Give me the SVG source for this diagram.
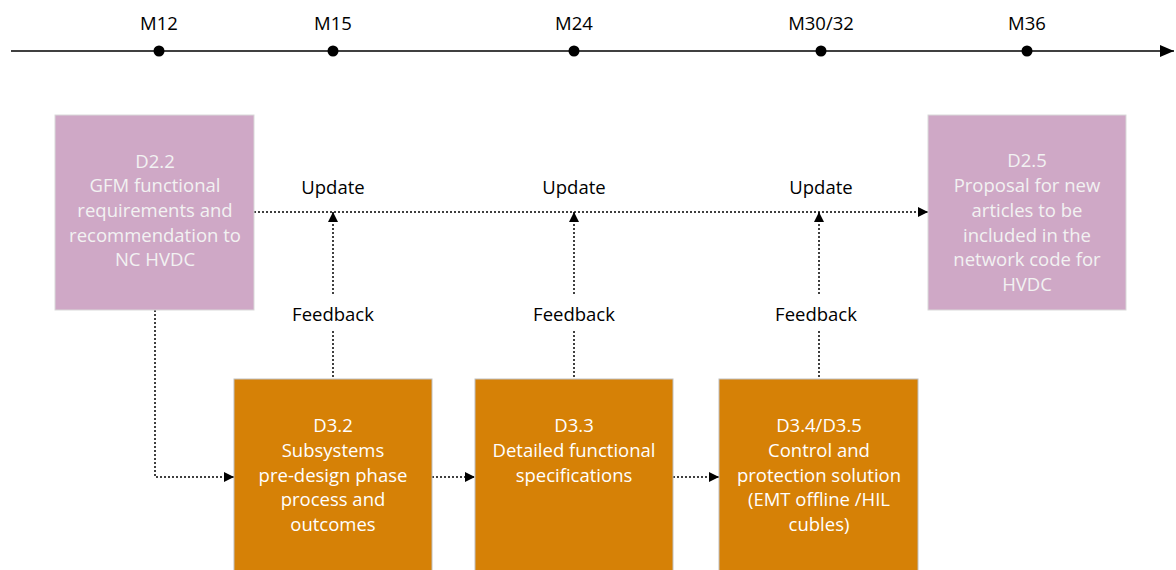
<svg xmlns="http://www.w3.org/2000/svg" width="1176" height="570" viewBox="0 0 1176 570">
<defs>
<marker id="ah" viewBox="0 0 10 10" refX="10" refY="5" markerWidth="10" markerHeight="10" markerUnits="userSpaceOnUse" orient="auto">
<path d="M0,0 L10,5 L0,10 z" fill="#000"/>
</marker>
<marker id="ahBig" viewBox="0 0 14 12" refX="14" refY="6" markerWidth="14" markerHeight="12" markerUnits="userSpaceOnUse" orient="auto">
<path d="M0,0 L14,6 L0,12 z" fill="#000"/>
</marker>
</defs>
<style>
text{font-family:"Open Sans","Liberation Sans",sans-serif;font-size:18.5px;text-anchor:middle;dominant-baseline:central}
.lab{fill:#000}
.pink rect{fill:#CFA8C6;stroke:#D9D9D9;stroke-width:1}
.pink text{fill:#F2F2F2}
.orange rect{fill:#D68106;stroke:#BFBFBF;stroke-width:1}
.orange text{fill:#FFFFFF}
.dot{fill:none;stroke:#000;stroke-width:1.5;stroke-dasharray:2 2}
</style>
<g id="timeline">
<line x1="11" y1="51" x2="1174" y2="51" stroke="#000" stroke-width="1.5" marker-end="url(#ahBig)"/>
<circle cx="159" cy="51" r="5.5"/>
<circle cx="333" cy="51" r="5.5"/>
<circle cx="574" cy="51" r="5.5"/>
<circle cx="821" cy="51" r="5.5"/>
<circle cx="1027" cy="51" r="5.5"/>
<text class="lab" x="159" y="22">M12</text>
<text class="lab" x="333" y="22">M15</text>
<text class="lab" x="574" y="22">M24</text>
<text class="lab" x="821" y="22">M30/32</text>
<text class="lab" x="1027" y="22">M36</text>
</g>
<g id="connectors">
<line class="dot" x1="254" y1="212" x2="928" y2="212" marker-end="url(#ah)"/>
<line class="dot" x1="333" y1="294" x2="333" y2="212" marker-end="url(#ah)"/>
<line class="dot" x1="574" y1="294" x2="574" y2="212" marker-end="url(#ah)"/>
<line class="dot" x1="819" y1="294" x2="819" y2="212" marker-end="url(#ah)"/>
<line class="dot" x1="333" y1="331" x2="333" y2="379"/>
<line class="dot" x1="574" y1="331" x2="574" y2="379"/>
<line class="dot" x1="819" y1="331" x2="819" y2="379"/>
<polyline class="dot" points="155,310 155,477 234,477" marker-end="url(#ah)"/>
<line class="dot" x1="432" y1="477" x2="475" y2="477" marker-end="url(#ah)"/>
<line class="dot" x1="673" y1="477" x2="719" y2="477" marker-end="url(#ah)"/>
<text class="lab" x="333" y="186">Update</text>
<text class="lab" x="574" y="186">Update</text>
<text class="lab" x="821" y="186">Update</text>
<text class="lab" x="333" y="313">Feedback</text>
<text class="lab" x="574" y="313">Feedback</text>
<text class="lab" x="816" y="313">Feedback</text>
</g>
<g id="d22" class="pink">
<rect x="55" y="115" width="199" height="195"/>
<text x="155" y="160">D2.2</text>
<text x="155" y="184.5">GFM functional</text>
<text x="155" y="209">requirements and</text>
<text x="155" y="234">recommendation to</text>
<text x="155" y="258.5">NC HVDC</text>
</g>
<g id="d25" class="pink">
<rect x="928" y="115" width="198" height="195"/>
<text x="1027" y="159">D2.5</text>
<text x="1027" y="184">Proposal for new</text>
<text x="1027" y="209">articles to be</text>
<text x="1027" y="234">included in the</text>
<text x="1027" y="258.5">network code for</text>
<text x="1027" y="283">HVDC</text>
</g>
<g id="d32" class="orange">
<rect x="234" y="379" width="198" height="200"/>
<text x="333" y="424">D3.2</text>
<text x="333" y="449">Subsystems</text>
<text x="333" y="474">pre-design phase</text>
<text x="333" y="498.5">process and</text>
<text x="333" y="523">outcomes</text>
</g>
<g id="d33" class="orange">
<rect x="475" y="379" width="198" height="200"/>
<text x="574" y="424">D3.3</text>
<text x="574" y="449">Detailed functional</text>
<text x="574" y="474">specifications</text>
</g>
<g id="d345" class="orange">
<rect x="719" y="379" width="199" height="200"/>
<text x="819" y="424">D3.4/D3.5</text>
<text x="819" y="449">Control and</text>
<text x="819" y="474">protection solution</text>
<text x="819" y="498.5">(EMT offline /HIL</text>
<text x="819" y="523">cubles)</text>
</g>
</svg>
